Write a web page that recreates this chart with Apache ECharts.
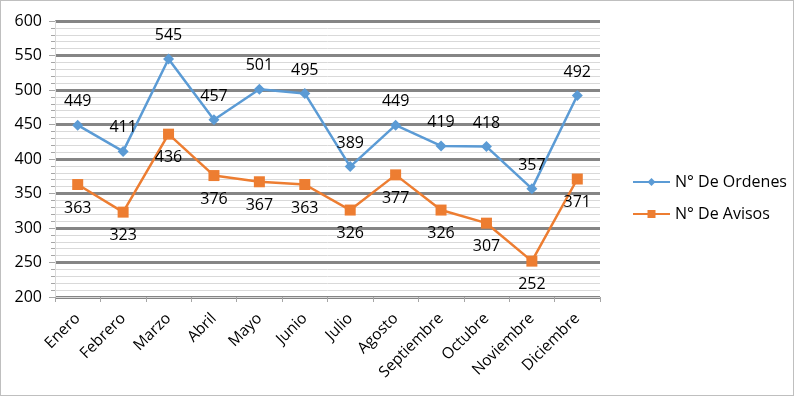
<!DOCTYPE html>
<html><head><meta charset="utf-8">
<script src="https://cdn.jsdelivr.net/npm/echarts@6/dist/echarts.min.js"></script>
<style>html,body{margin:0;padding:0;background:#fff}#c{width:794px;height:396px;box-sizing:border-box;border:1px solid #bfbfbf}</style>
</head><body><div id="c"></div>
<script>
const categories = ['Enero','Febrero','Marzo','Abril','Mayo','Junio','Julio','Agosto','Septiembre','Octubre','Noviembre','Diciembre'];
const ordenes = [449,411,545,457,501,495,389,449,419,418,357,492];
const avisos = [363,323,436,376,367,363,326,377,326,307,252,371];
const seriesNames = ['N° De Ordenes','N° De Avisos'];
const yMin = 200, yMax = 600, yStep = 50;

const FONT = 'Open Sans';
const chart = echarts.init(document.getElementById('c'));
chart.setOption({
  animation: false,
  textStyle: {fontFamily: FONT},
  grid: {left: 54, right: 193, top: 20, bottom: 98, containLabel: false},
  legend: {
    orient: 'vertical', left: 626, top: 168, itemGap: 16,
    itemWidth: 37, itemHeight: 10,
    textStyle: {fontSize: 16, color: '#000', fontFamily: FONT},
    data: seriesNames
  },
  xAxis: {
    type: 'category', data: categories, boundaryGap: true,
    axisLine: {lineStyle: {color: '#d9d9d9', width: 1}},
    axisTick: {show: true, length: 5, lineStyle: {color: '#a6a6a6'}},
    axisLabel: {rotate: 45, fontSize: 15.5, color: '#000', margin: 19, fontFamily: FONT, interval: 0},
    splitLine: {show: false}
  },
  yAxis: {
    type: 'value', min: yMin, max: yMax, interval: yStep,
    axisLine: {show: true, lineStyle: {color: '#d9d9d9'}},
    axisTick: {show: true, length: 6, lineStyle: {color: '#a6a6a6'}},
    minorTick: {show: true, splitNumber: 5, length: 4, lineStyle: {color: '#a6a6a6'}},
    axisLabel: {fontSize: 16, color: '#000', margin: 13, fontFamily: FONT},
    splitLine: {show: true, lineStyle: {color: '#858585', width: 3}},
    minorSplitLine: {show: true, lineStyle: {color: '#d9d9d9', width: 1}}
  },
  series: [
    {
      name: seriesNames[0], type: 'line', data: ordenes,
      symbol: 'diamond', symbolSize: 11,
      lineStyle: {color: '#5b9bd5', width: 2.5},
      itemStyle: {color: '#5b9bd5'},
      label: {show: true, position: 'top', distance: 10, fontSize: 16, color: '#000', fontFamily: FONT}
    },
    {
      name: seriesNames[1], type: 'line', data: avisos,
      symbol: 'rect', symbolSize: 11,
      lineStyle: {color: '#ed7d31', width: 2.5},
      itemStyle: {color: '#ed7d31'},
      label: {show: true, position: 'bottom', distance: 10, fontSize: 16, color: '#000', fontFamily: FONT}
    }
  ]
});
</script></body></html>
